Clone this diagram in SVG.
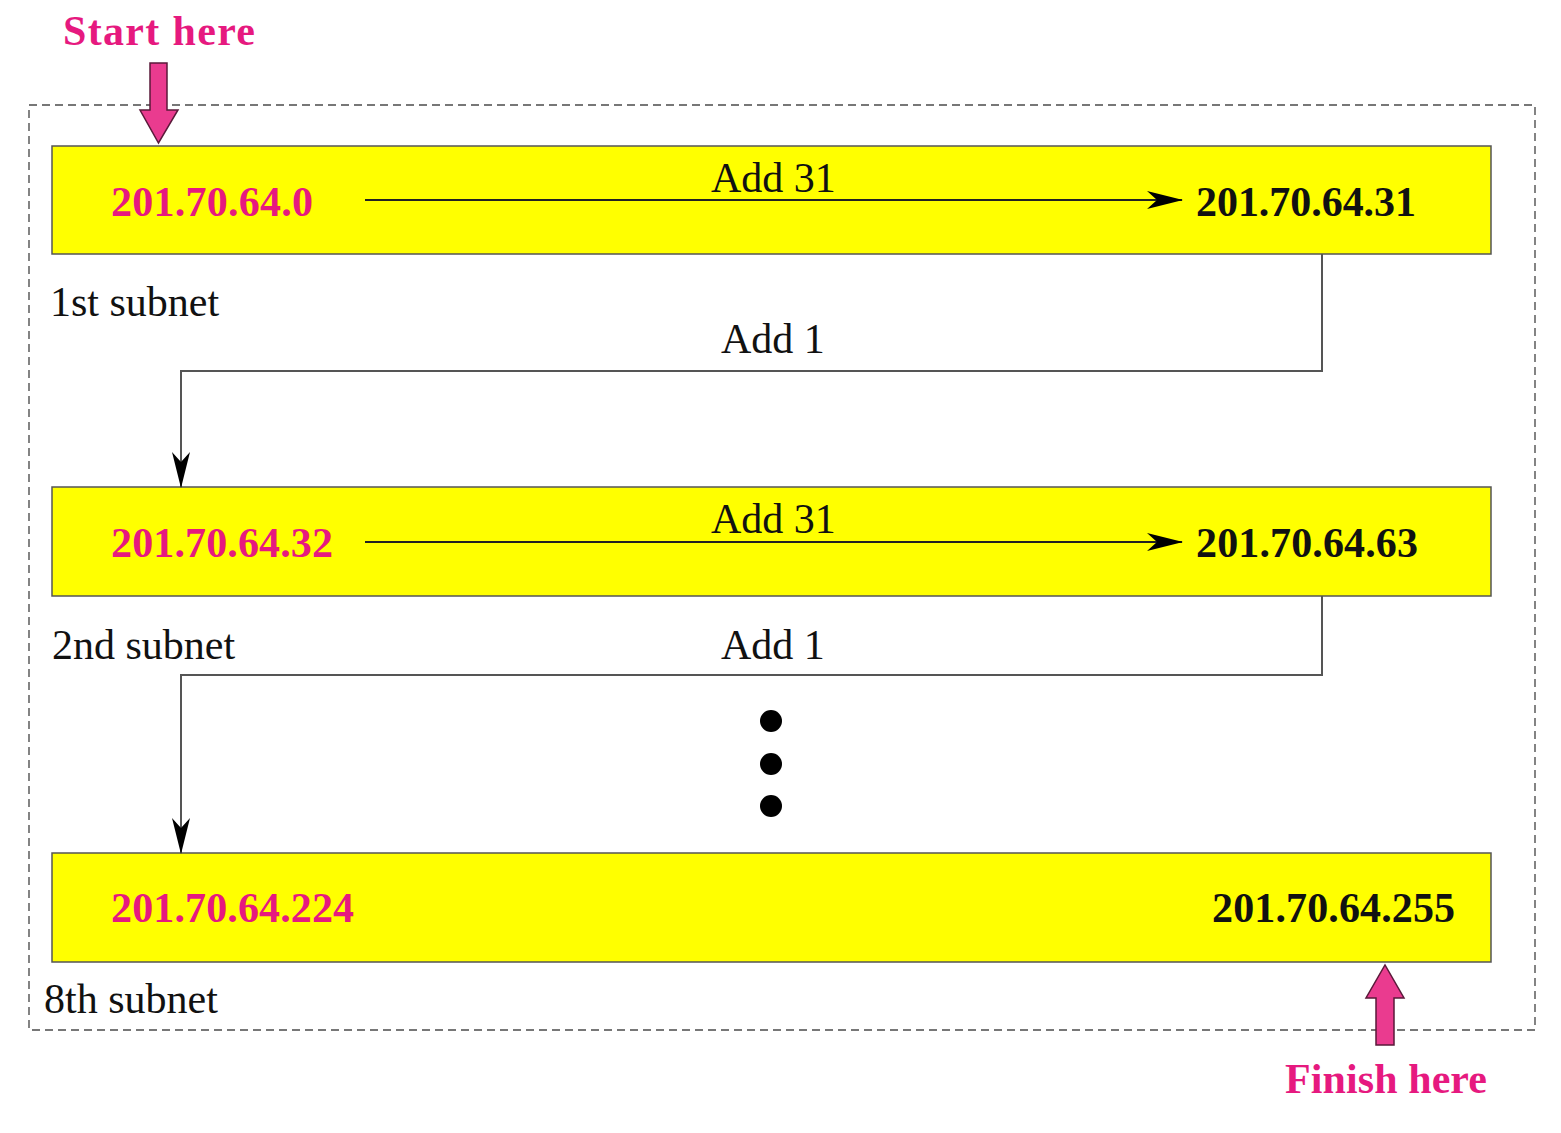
<svg xmlns="http://www.w3.org/2000/svg" width="1561" height="1133" viewBox="0 0 1561 1133">
<style>
.t{font-family:"Liberation Serif","Times New Roman",serif;font-size:42px;fill:#111}
.b{font-weight:bold}
.m{fill:#e6197f}
.box{fill:#ffff00;stroke:#555;stroke-width:1.5}
.ln{fill:none;stroke:#222;stroke-width:2}
.el{fill:none;stroke:#555;stroke-width:2}
.pk{fill:#ea3b8f;stroke:#5a1a3a;stroke-width:1.5}
</style>
<defs>
<marker id="ah" viewBox="0 0 36 20" refX="35" refY="10" markerWidth="36" markerHeight="20" markerUnits="userSpaceOnUse" orient="auto">
<path d="M0,1 L36,10 L0,19 L10,10 Z" fill="#000"/>
</marker>
</defs>
<rect x="29" y="105" width="1506" height="925" fill="none" stroke="#777" stroke-width="1.8" stroke-dasharray="8,5"/>
<g id="start">
<text class="t b m" x="63" y="45" textLength="192">Start here</text>
<path class="pk" d="M150,63 L167,63 L167,110 L178,110 L158.5,143 L140,110 L150,110 Z"/>
</g>
<g id="subnet1">
<rect class="box" x="52" y="146" width="1439" height="108"/>
<text class="t b m" x="111" y="216" textLength="202">201.70.64.0</text>
<text class="t b" x="1196" y="216" textLength="220">201.70.64.31</text>
<text class="t" x="711" y="192">Add 31</text>
<text class="t" x="50" y="316">1st subnet</text>
</g>
<g id="subnet2">
<rect class="box" x="52" y="487" width="1439" height="109"/>
<text class="t b m" x="111" y="557" textLength="222">201.70.64.32</text>
<text class="t b" x="1196" y="557" textLength="222">201.70.64.63</text>
<text class="t" x="711" y="533">Add 31</text>
<text class="t" x="52" y="659">2nd subnet</text>
</g>
<g id="subnet8">
<rect class="box" x="52" y="853" width="1439" height="109"/>
<text class="t b m" x="111" y="922" textLength="243">201.70.64.224</text>
<text class="t b" x="1212" y="922" textLength="243">201.70.64.255</text>
<text class="t" x="44" y="1013">8th subnet</text>
</g>
<g id="finish">
<path class="pk" d="M1376,1045 L1394,1045 L1394,998 L1404,998 L1385,965 L1366,998 L1376,998 Z"/>
<text class="t b m" x="1285" y="1093" textLength="202">Finish here</text>
</g>
<g id="connectors">
<line class="ln" x1="365" y1="200" x2="1182" y2="200" marker-end="url(#ah)"/>
<line class="ln" x1="365" y1="542" x2="1182" y2="542" marker-end="url(#ah)"/>
<polyline class="el" points="1322,254 1322,371 181,371 181,487" marker-end="url(#ah)"/>
<polyline class="el" points="1322,596 1322,675 181,675 181,853" marker-end="url(#ah)"/>
<text class="t" x="721" y="353">Add 1</text>
<text class="t" x="721" y="659">Add 1</text>
</g>
<g id="dots" fill="#000">
<circle cx="771" cy="721" r="11"/>
<circle cx="771" cy="764" r="11"/>
<circle cx="771" cy="806" r="11"/>
</g>
</svg>
